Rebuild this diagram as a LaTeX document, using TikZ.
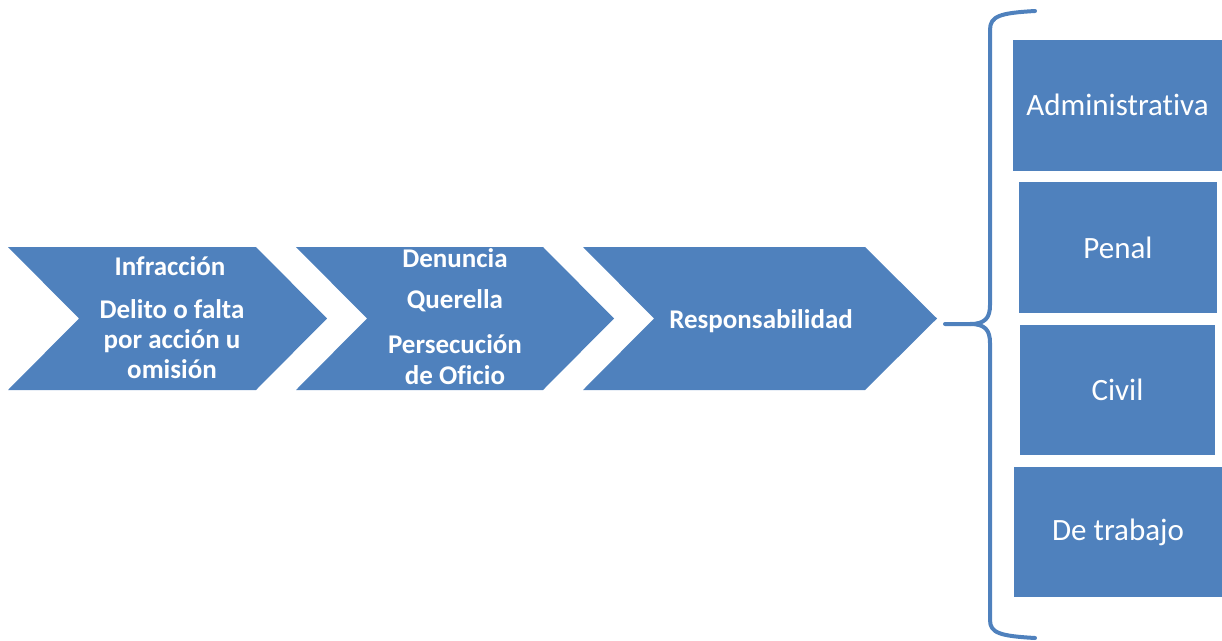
\documentclass[tikz,border=0pt]{standalone}
\usepackage{fontspec}
\setmainfont[Ligatures={NoCommon}]{Carlito}
\definecolor{obl}{HTML}{4F81BD}
\begin{document}
\begin{tikzpicture}[x=1pt,y=-1pt,
  chev/.style={fill=obl,draw=none},
  ctext/.style={text=white,font=\fontsize{27}{30}\selectfont\bfseries,anchor=base,inner sep=0pt},
  rbox/.style={fill=obl,draw=none,inner sep=0pt,text=white,font=\fontsize{31}{35}\selectfont},
  brace/.style={draw=obl,line width=4pt,line cap=round,line join=round}]
\useasboundingbox (0,0) rectangle (1222,640);
% chevrons
\fill[chev] (8,247) -- (256,247) -- (327,318.5) -- (256,390) -- (8,390) -- (79,318.5) -- cycle;
\fill[chev] (296,247) -- (543,247) -- (614,318.5) -- (543,390) -- (296,390) -- (367,318.5) -- cycle;
\fill[chev] (583,247) -- (865,247) -- (937,318.5) -- (865,390) -- (583,390) -- (654,318.5) -- cycle;
% chevron texts
\node[ctext] (t1a) at (170,275) {Infracción};
\node[ctext] (t1b) at (172,318) {Delito o falta};
\node[ctext] (t1c) at (172,348) {por acción u};
\node[ctext] (t1d) at (172,378) {omisión};
\node[ctext] (t2a) at (455,267) {Denuncia};
\node[ctext] (t2b) at (455,308) {Querella};
\node[ctext] (t2c) at (455,353) {Persecución};
\node[ctext] (t2d) at (455,384) {de Oficio};
\node[ctext] (t3a) at (761,328) {Responsabilidad};
% right boxes
\node[rbox,minimum width=209pt,minimum height=131pt] (adm) at (1117.5,105) {Administrativa};
\node[rbox,minimum width=198pt,minimum height=131pt] (pen) at (1118,247.5) {Penal};
\node[rbox,minimum width=195pt,minimum height=130pt] (civ) at (1117.5,390) {Civil};
\node[rbox,minimum width=208pt,minimum height=130pt] (tra) at (1118,532) {De trabajo};
% brace
\coordinate (btop) at (1035,11);
\coordinate (bbot) at (1035,638);
\coordinate (bmid) at (945,324);
\draw[brace] (btop) .. controls (1000,13) and (990,16) .. (990,30)
  -- (990,305) .. controls (990,318) and (985,324) .. (970,324) -- (bmid);
\draw[brace] (bbot) .. controls (1000,636) and (990,633) .. (990,620)
  -- (990,343) .. controls (990,330) and (985,324) .. (970,324);
\end{tikzpicture}
\end{document}
